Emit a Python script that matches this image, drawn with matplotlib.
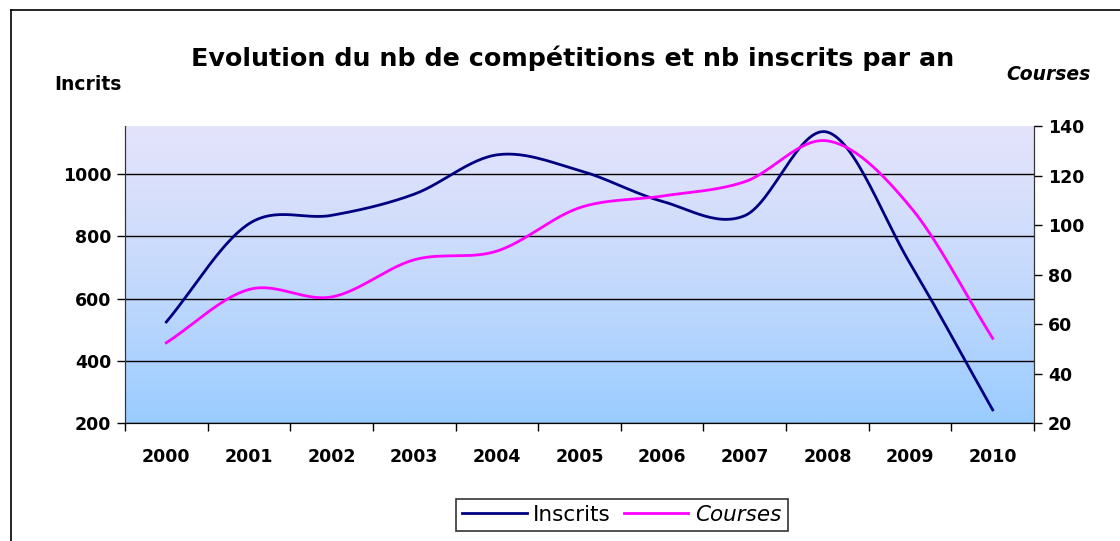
import numpy as np
import matplotlib.pyplot as plt
from matplotlib.lines import Line2D

# données
annees = ['2000', '2001', '2002', '2003', '2004', '2005',
          '2006', '2007', '2008', '2009', '2010']
inscrits = [525, 840, 867, 935, 1061, 1011, 912, 866, 1134, 713, 243]
courses = [52.5, 74, 71, 86, 89.5, 107, 111.7, 117.5, 134, 107.5, 54.3]


def lisse(y, n=30):
    # courbe lissée type Excel (Catmull-Rom)
    x = np.arange(len(y), dtype=float)
    y = np.asarray(y, dtype=float)
    px = np.concatenate([[2 * x[0] - x[1]], x, [2 * x[-1] - x[-2]]])
    py = np.concatenate([[2 * y[0] - y[1]], y, [2 * y[-1] - y[-2]]])
    xs, ys = [], []
    t = np.linspace(0, 1, n)
    for i in range(1, len(px) - 2):
        p0, p1, p2, p3 = py[i - 1:i + 3]
        q0, q1, q2, q3 = px[i - 1:i + 3]
        f = lambda a, b, c, d: 0.5 * (2 * b + (-a + c) * t
                                      + (2 * a - 5 * b + 4 * c - d) * t ** 2
                                      + (-a + 3 * b - 3 * c + d) * t ** 3)
        xs.append(f(q0, q1, q2, q3))
        ys.append(f(p0, p1, p2, p3))
    return np.concatenate(xs), np.concatenate(ys)


fig = plt.figure(figsize=(11.2, 5.41), dpi=100)
ax = fig.add_axes([0.1116, 0.2176, 0.8116, 0.5495])
ax2 = ax.twinx()

# fond dégradé
haut = np.array([0.89, 0.89, 0.985])
bas = np.array([0.60, 0.80, 1.00])
s = np.linspace(0, 1, 256) ** 1.3
grad = s[:, None, None] * (bas - haut) + haut
ax.imshow(grad, extent=[-0.5, 10.5, 200, 1153.6], aspect='auto',
          zorder=0, interpolation='bilinear')

ax.set_xlim(-0.5, 10.5)
ax.set_ylim(200, 1153.6)
ax2.set_ylim(20, 140)

ax.set_yticks([200, 400, 600, 800, 1000])
ax2.set_yticks([20, 40, 60, 80, 100, 120, 140])
ax.set_xticks(np.arange(-0.5, 11, 1), minor=False)
ax.set_xticklabels([])
ax.set_xticks(np.arange(11), minor=True)
ax.set_xticklabels(annees, minor=True)
ax.tick_params(axis='x', which='major', length=6, width=1, direction='out')
ax.tick_params(axis='x', which='minor', length=0, pad=18)
ax.tick_params(axis='y', length=6, width=1, direction='out', pad=4)
ax2.tick_params(axis='y', length=6, width=1, direction='out', pad=4)
for lab in ax.get_xticklabels(minor=True):
    lab.set_fontweight('bold')
    lab.set_fontsize(12.5)
for lab in ax.get_yticklabels() + ax2.get_yticklabels():
    lab.set_fontweight('bold')
    lab.set_fontsize(12.5)

ax.grid(axis='y', color='black', lw=1)
ax.set_axisbelow(False)
for a in (ax, ax2):
    a.spines['top'].set_visible(False)
    a.spines['left'].set_color('#333333')
    a.spines['right'].set_color('#333333')

xi, yi = lisse(inscrits)
xc, yc = lisse(courses)
ax.plot(xi, yi, color='#000080', lw=2, zorder=3)
ax2.plot(xc, yc, color='#FF00FF', lw=2, zorder=3)

fig.text(0.511, 0.893, 'Evolution du nb de compétitions et nb inscrits par an',
         ha='center', va='center', fontsize=18.3, fontweight='bold')
fig.text(0.048, 0.843, 'Incrits', ha='left', va='center',
         fontsize=13.5, fontweight='bold')
fig.text(0.974, 0.862, 'Courses', ha='right', va='center',
         fontsize=13.5, fontweight='bold', style='italic')

# bordure du graphique
fig.add_artist(Line2D([0.0095, 0.0095], [0, 0.982], color='black', lw=1.2))
fig.add_artist(Line2D([0.0095, 1], [0.982, 0.982], color='black', lw=1.2))

poignees = [Line2D([], [], color='#000080', lw=2),
            Line2D([], [], color='#FF00FF', lw=2)]
leg = fig.legend(poignees, ['Inscrits', 'Courses'], ncol=2,
                 loc='center', bbox_to_anchor=(0.555, 0.048),
                 fontsize=15.5, frameon=True, fancybox=False,
                 handlelength=3.0, columnspacing=0.6, handletextpad=0.3,
                 borderpad=0.3, borderaxespad=0)
leg.get_frame().set_edgecolor('black')
leg.get_frame().set_linewidth(1.2)
leg.get_texts()[1].set_style('italic')

fig.savefig('out.png', dpi=100)
